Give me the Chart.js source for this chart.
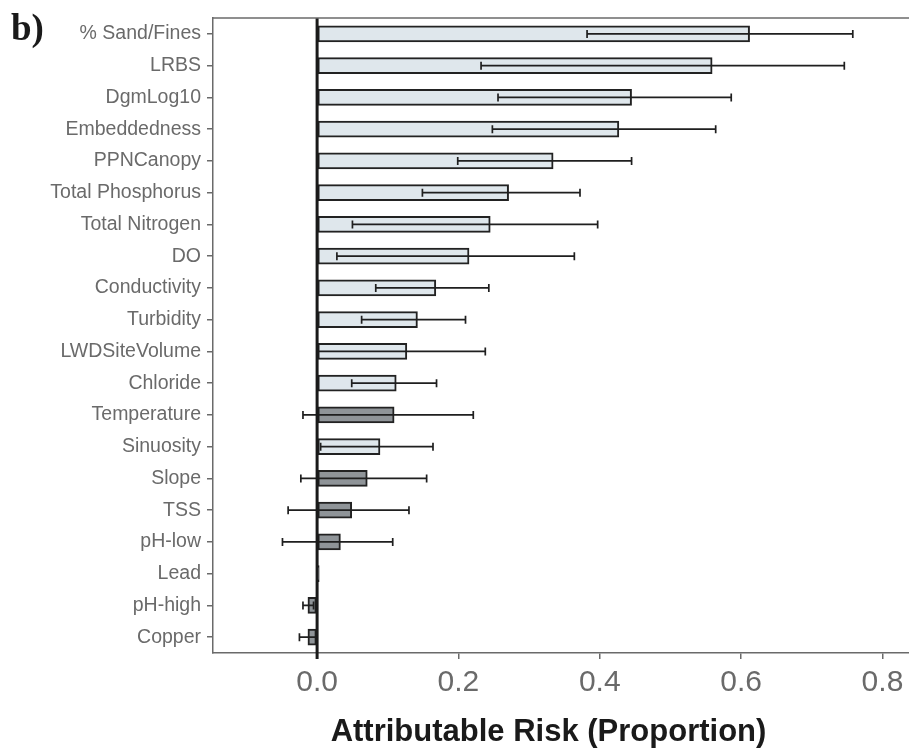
<!DOCTYPE html>
<html>
<head>
<meta charset="utf-8">
<script src="https://cdn.jsdelivr.net/npm/chart.js@4.4.1/dist/chart.umd.min.js"></script>
<style>
html,body{margin:0;padding:0;background:#fff;}
#wrap{position:relative;width:909px;height:748px;overflow:hidden;}
#panel{position:absolute;left:11px;top:2px;font:bold 37px "Liberation Serif","DejaVu Serif",serif;color:#1a1a1a;line-height:52px;}
#xtitle{position:absolute;left:0;width:1097px;top:713px;text-align:center;font:bold 31px "Liberation Sans",Arial,sans-serif;color:#1a1a1a;line-height:36px;white-space:nowrap;}
</style>
</head>
<body>
<div id="wrap">
<canvas id="chart" width="960" height="748"></canvas>
<div id="panel">b)</div>
<div id="xtitle">Attributable Risk (Proportion)</div>
</div>
<script>
// Data, top to bottom
const categories=["% Sand/Fines","LRBS","DgmLog10","Embeddedness","PPNCanopy","Total Phosphorus","Total Nitrogen","DO","Conductivity","Turbidity","LWDSiteVolume","Chloride","Temperature","Sinuosity","Slope","TSS","pH-low","Lead","pH-high","Copper"];
const risk=[0.612,0.559,0.445,0.427,0.334,0.271,0.245,0.215,0.168,0.142,0.127,0.112,0.109,0.089,0.071,0.049,0.033,0.003,-0.013,-0.013];
const lower=[0.382,0.232,0.256,0.248,0.199,0.149,0.050,0.028,0.083,0.063,0.000,0.049,-0.020,0.005,-0.023,-0.041,-0.049,0.003,-0.020,-0.025];
const upper=[0.758,0.746,0.586,0.564,0.445,0.372,0.397,0.364,0.243,0.210,0.238,0.169,0.221,0.164,0.155,0.130,0.107,0.003,-0.005,0.000];
const significant=[true,true,true,true,true,true,true,true,true,true,true,true,false,true,false,false,false,false,false,false];
const xTicks=[0,0.2,0.4,0.6,0.8];

const LIGHT="#dfe7ec",DARK="#8f9498",EDGE="#222",AXIS="#6a6a6a";

// error bars + zero line + top frame line
const extras={
id:"extras",
afterDatasetsDraw(chart){
const ctx=chart.ctx,xs=chart.scales.x,ys=chart.scales.y,a=chart.chartArea;
ctx.save();
ctx.strokeStyle="#1f1f1f";
ctx.lineWidth=1.7;
categories.forEach((c,i)=>{
if(lower[i]===upper[i]) return;
let y=ys.getPixelForValue(i);
let x1=xs.getPixelForValue(lower[i]),x2=xs.getPixelForValue(upper[i]);
ctx.beginPath();
ctx.moveTo(x1,y);ctx.lineTo(x2,y);
ctx.moveTo(x1,y-4);ctx.lineTo(x1,y+4);
ctx.moveTo(x2,y-4);ctx.lineTo(x2,y+4);
ctx.stroke();
});
// zero line
let x0=xs.getPixelForValue(0);
ctx.strokeStyle="#1a1a1a";
ctx.lineWidth=3;
ctx.beginPath();
ctx.moveTo(x0,a.top);ctx.lineTo(x0,a.bottom+6);
ctx.stroke();
// top frame
ctx.strokeStyle=AXIS;
ctx.lineWidth=1.5;
ctx.beginPath();
ctx.moveTo(a.left,a.top);ctx.lineTo(a.right,a.top);
ctx.stroke();
ctx.restore();
}
};

new Chart(document.getElementById("chart"),{
type:"bar",
data:{
labels:categories,
datasets:[{
data:risk,
backgroundColor:significant.map(s=>s?LIGHT:DARK),
borderColor:EDGE,
borderWidth:2,
borderSkipped:false,
barThickness:16
}]
},
options:{
indexAxis:"y",
responsive:false,
animation:false,
layout:{padding:{top:18,left:0,right:0,bottom:0}},
plugins:{legend:{display:false},tooltip:{enabled:false}},
scales:{
x:{
min:-0.1473,max:0.9097,
afterBuildTicks:s=>{s.ticks=xTicks.map(v=>({value:v}));},
afterFit:s=>{s.height=95;},
grid:{drawOnChartArea:false,drawTicks:true,tickLength:6,color:AXIS,lineWidth:1.5},
border:{display:true,color:AXIS,width:1.5},
ticks:{color:AXIS,font:{family:"'Liberation Sans', Arial, sans-serif",size:30},padding:6,maxRotation:0,callback:v=>v.toFixed(1)}
},
y:{
afterFit:s=>{s.width=213;},
grid:{offset:false,drawOnChartArea:false,drawTicks:true,tickLength:6,color:AXIS,lineWidth:1.5},
border:{display:true,color:AXIS,width:1.5},
ticks:{color:AXIS,font:{family:"'Liberation Sans', Arial, sans-serif",size:19.5},padding:6,autoSkip:false}
}
}
},
plugins:[extras]
});
</script>
</body>
</html>
